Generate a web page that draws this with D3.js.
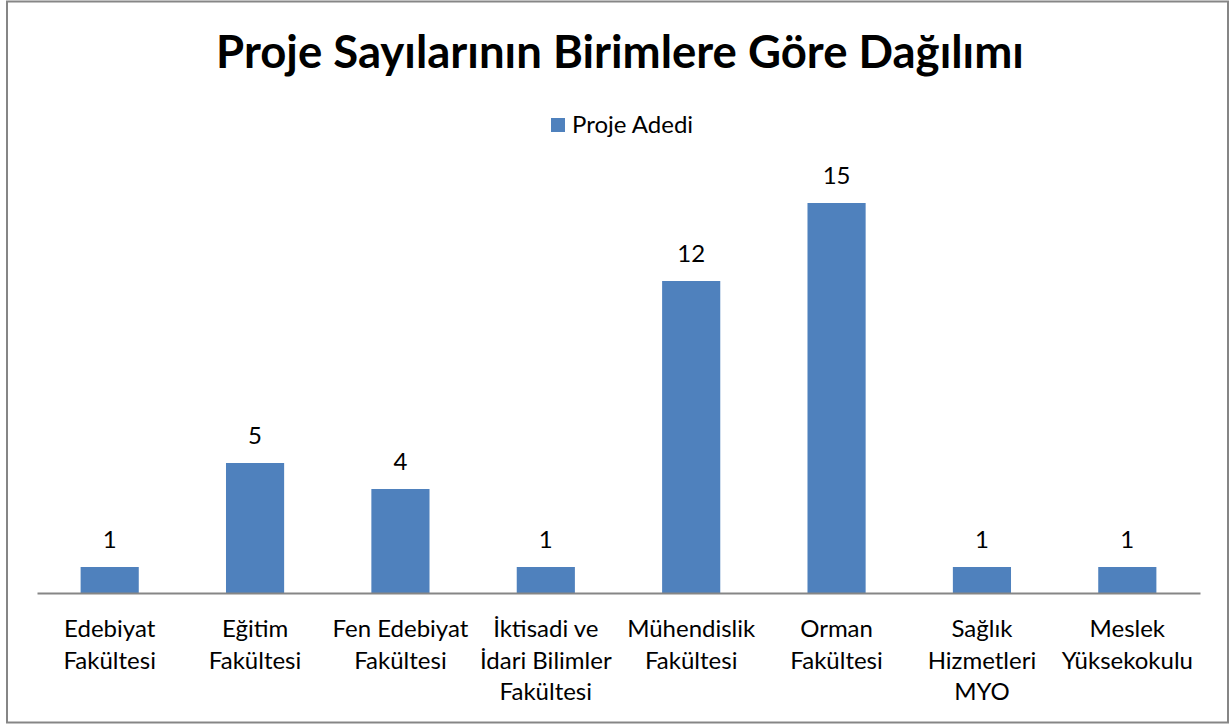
<!DOCTYPE html>
<html lang="tr">
<head>
  <meta charset="UTF-8">
  <title>Proje Sayıları</title>
  <script src="https://d3js.org/d3.v7.min.js"></script>
  <style>
    body { margin: 0; background: #fff; }
    text { font-family: "Lato", "Open Sans", sans-serif; fill: #000; }
    .title { font-size: 45.5px; font-weight: 700; }
    .lbl { font-size: 24px; }
  </style>
</head>
<body>
<div id="chart"></div>
<script>
  // ## Data
  const categories = [
    "Edebiyat\nFakültesi",
    "Eğitim\nFakültesi",
    "Fen Edebiyat\nFakültesi",
    "İktisadi ve\nİdari Bilimler\nFakültesi",
    "Mühendislik\nFakültesi",
    "Orman\nFakültesi",
    "Sağlık\nHizmetleri\nMYO",
    "Meslek\nYüksekokulu"
  ];
  const values = [1, 5, 4, 1, 12, 15, 1, 1];
  const seriesName = "Proje Adedi";
  const barColor = "#4F81BD";

  const width = 1231, height = 725;
  const plot = {left: 37, right: 1200, top: 177, bottom: 593};

  const svg = d3.select("#chart").append("svg")
    .attr("width", width)
    .attr("height", height);

  // outer border
  svg.append("rect")
    .attr("x", 7).attr("y", 1.5)
    .attr("width", 1221).attr("height", 721)
    .attr("fill", "#fff")
    .attr("stroke", "#868686")
    .attr("stroke-width", 2);

  svg.append("text")
    .attr("class", "title")
    .attr("x", 620).attr("y", 68)
    .attr("text-anchor", "middle")
    .text("Proje Sayılarının Birimlere Göre Dağılımı");

  // legend
  const legend = svg.append("g").attr("transform", "translate(551,118)");
  legend.append("rect").attr("width", 14).attr("height", 14).attr("fill", barColor);
  legend.append("text").attr("class", "lbl")
    .attr("x", 21).attr("y", 15)
    .text(seriesName);

  // ## Scales
  const x = d3.scaleBand()
    .domain(categories)
    .range([plot.left, plot.right])
    .paddingInner(0.6)
    .paddingOuter(0.3);

  const y = d3.scaleLinear()
    .domain([0, 16])
    .range([plot.bottom, plot.top]);

  // bars
  svg.selectAll(".bar")
    .data(values)
    .join("rect")
    .attr("class", "bar")
    .attr("x", (d, i) => x(categories[i]))
    .attr("y", d => y(d))
    .attr("width", x.bandwidth())
    .attr("height", d => y(0) - y(d))
    .attr("fill", barColor);

  svg.selectAll(".val")
    .data(values)
    .join("text")
    .attr("class", "lbl")
    .attr("x", (d, i) => x(categories[i]) + x.bandwidth() / 2)
    .attr("y", d => y(d) - 19)
    .attr("text-anchor", "middle")
    .text(d => d);

  // x axis
  const xAxis = svg.append("g")
    .attr("transform", `translate(0,${plot.bottom})`)
    .call(d3.axisBottom(x).tickSize(0).tickFormat(""));
  xAxis.select(".domain").attr("stroke", "#868686").attr("stroke-width", 2);

  categories.forEach(c => {
    const cx = x(c) + x.bandwidth() / 2;
    const t = svg.append("text").attr("class", "lbl")
      .attr("text-anchor", "middle");
    c.split("\n").forEach((line, i) => {
      t.append("tspan").attr("x", cx).attr("y", 637 + i * 31.5).text(line);
    });
  });
</script>
</body>
</html>
